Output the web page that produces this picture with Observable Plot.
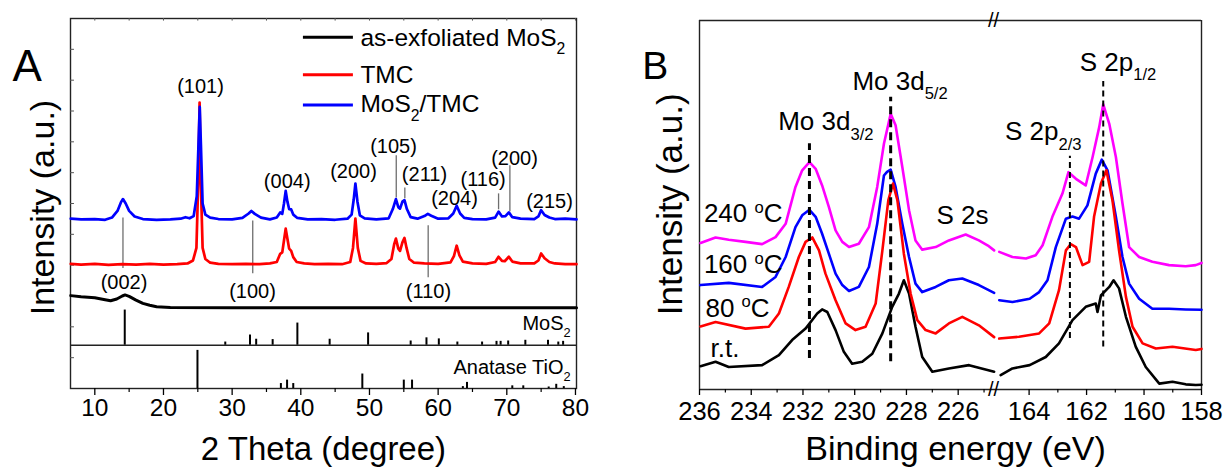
<!DOCTYPE html>
<html><head><meta charset="utf-8">
<script src="https://cdn.jsdelivr.net/npm/d3@7"></script>
<script src="https://cdn.jsdelivr.net/npm/@observablehq/plot@0.6"></script>
<style>
html,body{margin:0;padding:0;background:#fff;}
#fig{position:relative;width:1227px;height:468px;overflow:hidden;background:#fff;}
#fig svg{position:absolute;top:0;}
</style></head><body><div id="fig"></div>
<script>
const FONT = '"Liberation Sans", Arial, Helvetica, sans-serif';

// ---------- Panel A: XRD (2 theta, stacked intensity a.u.) ----------
const xrdBlack = [[6.5,25.1],[8,24.8],[10,24.5],[11.5,24.0],[12.3,23.7],[13.2,24.2],[14.0,25.0],[14.4,25.3],[15.0,24.9],[16,23.9],[17,23.0],[18,22.5],[19,22.1],[21,21.9],[30,21.8],[50,21.8],[80.15,21.8]];
const xrdTMC = [[6.5,33.7],[8,33.5],[10,33.7],[12,33.4],[14,33.6],[16,33.5],[18,33.7],[20,33.5],[22,33.6],[23.5,33.8],[24.3,34.6],[24.8,38],[25.05,55],[25.26,77.3],[25.45,55],[25.7,38],[26.1,35],[26.8,34],[28,33.7],[30,33.6],[32,33.7],[34,33.6],[35.5,33.8],[36.5,34.2],[37.0,36.4],[37.3,36.8],[37.55,40],[37.8,43.2],[38.05,40.5],[38.3,37.8],[38.6,37.2],[38.9,35.5],[39.4,34.2],[40.5,33.8],[42,33.6],[44,33.7],[46,33.6],[47.2,34.2],[47.6,38],[47.95,45.9],[48.3,38],[48.7,34.5],[49.5,33.8],[51,33.7],[52.5,33.9],[53.2,35],[53.6,39],[53.85,40.5],[54.2,37.8],[54.45,37.2],[54.8,39.5],[55.1,40.7],[55.4,38],[55.8,35],[56.5,34],[58,33.8],[60,33.7],[61.8,34.1],[62.3,35.8],[62.7,38.6],[63.1,36],[63.6,34.3],[65,33.8],[67,33.7],[68.3,34.2],[68.8,35.6],[69.3,34.5],[69.7,34.4],[70.3,35.6],[70.8,34.3],[72,33.8],[74,33.8],[74.6,34.6],[75.0,36.5],[75.5,35.2],[76.2,34.2],[77,33.8],[78.5,33.6],[80.15,33.6]];
const xrdMoS2TMC = [[6.5,45.9],[8,45.7],[10,45.8],[11.5,45.6],[12.5,46.2],[13.3,48],[13.8,50.3],[14.1,51.2],[14.5,50],[15.0,48],[15.8,46.5],[17,45.8],[19,45.6],[21,45.7],[22.5,45.9],[23.2,46.3],[23.8,46.0],[24.4,46.6],[24.85,52],[25.1,66],[25.28,76.1],[25.45,66],[25.7,50],[26.1,47],[26.8,46.2],[28,45.8],[30,45.7],[31.5,46.1],[32.4,47.3],[32.8,48.0],[33.3,47.2],[34.2,46.2],[35.5,45.7],[36.5,46.2],[37.0,47.6],[37.3,47.2],[37.55,50],[37.8,53.4],[38.05,50.5],[38.3,48.5],[38.6,48.4],[38.9,47],[39.5,46.1],[41,45.7],[43,45.8],[45,45.6],[46.8,45.9],[47.4,47],[47.7,51],[47.95,55.4],[48.25,50.5],[48.6,46.8],[49.3,46],[51,45.7],[52.8,46],[53.4,48.5],[53.85,51.2],[54.2,49],[54.45,48.6],[54.8,50.5],[55.1,50.9],[55.45,48.5],[56,46.3],[57,45.9],[58,46.6],[58.5,47.2],[59,46.7],[60,45.9],[61.5,46],[62.2,47.3],[62.7,49.4],[63.2,47.3],[63.8,46.1],[65,45.8],[67,45.7],[68.3,46.2],[68.8,47.8],[69.3,46.5],[69.8,46.6],[70.3,47.6],[70.8,46.3],[72,45.9],[74,45.8],[74.6,46.5],[75.0,48.2],[75.5,46.9],[76.2,46.2],[77,45.8],[78.5,45.9],[80.15,45.7]];

// Reference patterns (relative intensity, %)
const mos2RefTheta = [14.36,29.0,32.6,33.5,35.9,39.5,44.2,49.8,56.0,58.3,60.1,62.8,66.4,68.5,69.1,70.2,72.7,76.0,77.5,78.2];
const mos2RefInt   = [100,9,29,17,16,63,17,35,12,21,18,9,9,11,11,12,14,14,9,11];
const anataseRefTheta = [24.95,37.1,38.0,38.9,48.96,55.0,56.2,63.6,64.2,70.8,72.4,76.1,77.2,78.3];
const anataseRefInt   = [100,13,22,13,38,22,22,5,16,7,7,4,11,5];
const mos2Base = 11.7, mos2Scale = 0.095, anataseScale = 0.103;

const legendLabels = ["as-exfoliated MoS_{2}", "TMC", "MoS_{2}/TMC"];
const legendColors = ["#000000", "#ff0000", "#0000ff"];
const legendLineY = [94.9, 84.8, 76.6];
const legendTextY = [92.6, 82.7, 74.6];

const peakLabelText = ["(101)","(004)","(200)","(105)","(211)","(204)","(116)","(200)","(215)","(002)","(100)","(110)"];
const peakLabelX    = [25.39,38.02,47.67,53.5,58.01,62.38,66.56,71.12,76.22,14.25,32.97,58.59];
const peakLabelY    = [79.8,54.2,56.9,63.7,56.0,49.6,54.7,60.3,48.8,26.8,24.5,24.5];

const dropX  = [14.1,33.0,58.55,53.9,55.15,68.8,70.45];
const dropY1 = [32.4,31.0,29.9,51.5,51.3,48.3,47.8];
const dropY2 = [46.1,45.3,44.0,62.9,54.2,52.6,60.2];

const xTicksA = [10,20,30,40,50,60,70,80];
const xMinorA = [15,25,35,45,55,65,75];
const yTicksA = [8.33,16.67,25,33.33,41.67,50,58.33,66.67,75,83.33,91.67];

// ---------- Panel B: XPS (binding energy, eV), broken axis ----------
const xpsRT = {
  left: [[235.96,6.3],[235.38,7.5],[234.87,6.1],[233.58,6.6],[232.93,9.3],[232.42,13.4],[231.9,16.5],[231.45,20.6],[231.26,21.7],[231.06,21.0],[230.74,16.1],[230.42,10.2],[230.1,7.0],[229.71,7.5],[229.32,9.7],[228.93,15.2],[228.55,22.4],[228.29,26.0],[228.1,29.6],[227.9,26.0],[227.65,17.0],[227.39,8.8],[227.0,4.8],[226.36,5.7],[225.58,6.6],[224.61,4.8]],
  right: [[164.99,3.9],[164.58,5.7],[163.98,6.6],[163.42,8.8],[162.96,12.5],[162.49,18.8],[162.03,22.4],[161.68,23.3],[161.62,21.0],[161.5,25.5],[161.21,27.8],[161.06,29.6],[160.87,27.4],[160.63,19.7],[160.29,11.6],[159.94,6.1],[159.47,1.6],[159.01,2.1],[158.55,1.4],[158.2,1.2],[158.0,1.3]]
};
const xps80 = {
  left: [[235.96,17.1],[235.38,18.3],[234.22,16.5],[233.32,17.0],[232.93,20.6],[232.55,27.8],[232.16,35.9],[231.9,40.0],[231.64,41.2],[231.38,37.7],[231.13,31.4],[230.74,24.2],[230.35,17.9],[229.97,16.1],[229.58,17.0],[229.19,23.3],[228.93,37.7],[228.7,51.3],[228.52,55.8],[228.35,51.3],[228.1,36.8],[227.84,26.0],[227.58,18.8],[227.26,16.1],[226.87,15.2],[226.36,17.9],[225.84,19.7],[225.2,17.4],[224.61,14.2]],
  right: [[165.04,13.8],[164.35,14.3],[163.65,15.2],[163.3,17.9],[162.96,26.9],[162.72,37.7],[162.55,39.4],[162.37,38.6],[162.14,33.7],[161.91,34.6],[161.74,46.8],[161.5,55.8],[161.31,59.4],[161.1,51.3],[160.87,37.7],[160.63,25.1],[160.4,17.0],[160.05,12.5],[159.59,11.1],[159.01,11.6],[158.2,10.7],[158.0,11.0]]
};
const xps160 = {
  left: [[235.96,28.3],[234.87,28.9],[233.58,27.8],[233.06,30.5],[232.67,35.9],[232.29,44.0],[232.03,47.2],[231.75,48.7],[231.51,46.8],[231.26,42.2],[231.0,36.8],[230.74,31.4],[230.48,28.3],[230.22,26.7],[229.84,27.8],[229.45,33.2],[229.13,44.9],[228.87,58.0],[228.75,59.0],[228.61,59.6],[228.42,54.9],[228.16,44.9],[227.9,35.9],[227.65,28.7],[227.39,26.4],[226.87,27.8],[226.36,29.6],[225.84,30.1],[225.2,28.3],[224.61,26.2]],
  right: [[165.04,24.2],[164.58,23.7],[163.98,24.6],[163.65,26.4],[163.36,29.6],[163.07,38.6],[162.72,46.3],[162.49,46.9],[162.26,46.3],[161.97,49.9],[161.68,58.5],[161.47,62.3],[161.27,59.4],[160.98,46.8],[160.75,35.9],[160.52,28.7],[160.17,24.6],[159.71,21.9],[159.13,21.9],[158.55,21.7],[158.0,21.6]]
};
const xps240 = {
  left: [[235.96,39.7],[235.38,41.2],[234.87,40.6],[234.22,40.0],[233.58,39.4],[233.06,41.3],[232.67,44.9],[232.29,54.9],[232.03,59.4],[231.75,61.6],[231.51,59.8],[231.26,55.3],[231.0,49.5],[230.74,43.1],[230.48,40.0],[230.22,38.6],[229.84,39.5],[229.45,44.0],[229.13,54.9],[228.87,66.6],[228.61,74.7],[228.42,71.6],[228.16,60.3],[227.9,48.6],[227.65,40.4],[227.39,37.9],[226.87,38.6],[226.36,40.4],[225.71,42.0],[225.2,40.4],[224.85,39.0],[224.61,37.7]],
  right: [[165.04,37.3],[164.58,35.9],[164.11,35.5],[163.77,36.4],[163.53,39.1],[163.19,46.8],[162.84,53.1],[162.63,58.9],[162.37,57.1],[162.03,55.3],[161.79,63.0],[161.56,71.1],[161.42,77.3],[161.21,72.0],[160.98,63.0],[160.75,50.4],[160.52,38.6],[160.17,35.9],[159.71,34.6],[159.13,33.7],[158.55,33.4],[158.2,33.7],[158.0,34.3]]
};
const xpsSeries = [
  {name: "r.t.", color: "#000000", data: xpsRT},
  {name: "240 ^{o}C", color: "#ff00ff", data: xps240},
  {name: "160 ^{o}C", color: "#0000ff", data: xps160},
  {name: "80 ^{o}C", color: "#ff0000", data: xps80}
];
const seriesLabelX = [235.57, 235.83, 235.83, 235.77];
const seriesLabelY = [8.8, 45.4, 31.6, 19.7];

const moLineX = [231.75, 228.61], moLineY1 = [8.4, 7.5], moLineY2 = [66.6, 79.2];
const sLineX = [162.58, 161.42], sLineY1 = [13.8, 11.5], sLineY2 = [63.2, 83.5];

const moNames = ["Mo 3d_{5/2}", "Mo 3d_{3/2}", "S 2s"];
const moNamesX = [230.09, 232.96, 226.84];
const moNamesY = [81.3, 70.2, 44.9];
const sNames = ["S 2p_{2/3}", "S 2p_{1/2}"];
const sNamesX = [164.84, 162.24];
const sNamesY = [67.5, 86.3];

const domainLeftB = [236, 224.48];
const domainRightB = [165.1, 158];
const xTicksBL = [236,234,232,230,228,226];
const xMinorBL = [235,233,231,229,227,225];
const xTicksBR = [164,162,160,158];
const xMinorBR = [163,161,159];

// ---------- build rows ----------
const toRows = (pts, s) => pts.map(([x, y]) => ({x, y, s}));
const mos2Rows = mos2RefTheta.map((x, i) => ({x, i: mos2RefInt[i]}));
const anaRows = anataseRefTheta.map((x, i) => ({x, i: anataseRefInt[i]}));
const legendRows = legendLabels.map((t, i) => ({t, c: legendColors[i], ly: legendLineY[i], ty: legendTextY[i]}));
const peakRows = peakLabelText.map((t, i) => ({t, x: peakLabelX[i], y: peakLabelY[i]}));
const dropRows = dropX.map((x, i) => ({x, y1: dropY1[i], y2: dropY2[i]}));

const baseStyle = {fontFamily: FONT, background: "transparent", color: "#000", overflow: "visible"};

const plotA = Plot.plot({
  width: 610, height: 468,
  marginLeft: 70, marginRight: 34, marginTop: 18, marginBottom: 80,
  style: baseStyle,
  x: {domain: [6.46, 80.15], axis: null},
  y: {domain: [0, 100], axis: null},
  marks: [
    Plot.frame({stroke: "#222", strokeWidth: 1.4}),
    Plot.ruleY([mos2Base], {stroke: "#222", strokeWidth: 1.4}),
    Plot.ruleY(yTicksA, {x1: 6.46, x2: 7.04, stroke: "#555", strokeWidth: 1}),
    Plot.ruleX(xTicksA.concat(xMinorA), {y1: 99.3, y2: 100, stroke: "#555", strokeWidth: 1}),
    Plot.ruleX(mos2Rows, {x: "x", y1: mos2Base, y2: d => mos2Base + d.i * mos2Scale, stroke: "#000", strokeWidth: 2}),
    Plot.ruleX(anaRows, {x: "x", y1: 0, y2: d => d.i * anataseScale, stroke: "#000", strokeWidth: 2}),
    Plot.ruleX(dropRows, {x: "x", y1: "y1", y2: "y2", stroke: "#6e6e6e", strokeWidth: 1.3}),
    Plot.line(toRows(xrdBlack, "a"), {x: "x", y: "y", stroke: "#000", strokeWidth: 3}),
    Plot.line(toRows(xrdTMC, "b"), {x: "x", y: "y", stroke: "#ff0000", strokeWidth: 2.7}),
    Plot.line(toRows(xrdMoS2TMC, "c"), {x: "x", y: "y", stroke: "#0000ff", strokeWidth: 2.7}),
    Plot.ruleY(legendRows, {y: "ly", x1: 40.38, x2: 47.66, stroke: "c", strokeWidth: 3}),
    Plot.text(legendRows, {x: 48.68, y: "ty", text: "t", fontSize: 24.5, textAnchor: "start", lineAnchor: "bottom"}),
    Plot.text(peakRows, {x: "x", y: "y", text: "t", fontSize: 20, textAnchor: "middle", lineAnchor: "bottom"}),
    Plot.text([{t: "MoS_{2}", x: 79.3, y: 15.8}, {t: "Anatase TiO_{2}", x: 79.3, y: 3.9}],
      {x: "x", y: "y", text: "t", fontSize: 20, textAnchor: "end", lineAnchor: "bottom"}),
    Plot.axisX({ticks: xTicksA, tickSize: 7, tickPadding: 3, fontSize: 24.5, label: null, tickFormat: d => String(d), strokeWidth: 1.3}),
    Plot.axisX({ticks: xMinorA, tickSize: 4, tickFormat: () => "", label: null, strokeWidth: 1.2}),
    Plot.text([{t: "2 Theta (degree)", x: 43.3}], {x: "x", text: "t", frameAnchor: "bottom", dy: 71.5, fontSize: 33, textAnchor: "middle", lineAnchor: "bottom"}),
    Plot.text([{t: "Intensity (a.u.)", y: 48.9}], {y: "y", text: "t", frameAnchor: "left", rotate: -90, dx: -16.7, fontSize: 34, textAnchor: "middle", lineAnchor: "bottom"}),
    Plot.text([{t: "A"}], {text: "t", frameAnchor: "top-left", dx: -58, dy: 62, fontSize: 44, textAnchor: "start", lineAnchor: "bottom"})
  ]
});

const seriesLabelRows = xpsSeries.map((s, i) => ({t: s.name, x: seriesLabelX[i], y: seriesLabelY[i]}));
const moRows = moLineX.map((x, i) => ({x, y1: moLineY1[i], y2: moLineY2[i]}));
const sRows = sLineX.map((x, i) => ({x, y1: sLineY1[i], y2: sLineY2[i]}));
const moNameRows = moNames.map((t, i) => ({t, x: moNamesX[i], y: moNamesY[i]}));
const sNameRows = sNames.map((t, i) => ({t, x: sNamesX[i], y: sNamesY[i]}));
const frameStroke = {stroke: "#222", strokeWidth: 1.4};

// Left segment of the broken binding-energy axis (Mo 3d, S 2s)
const plotBL = Plot.plot({
  width: 387, height: 468,
  marginLeft: 89, marginRight: 0, marginTop: 20, marginBottom: 79,
  style: baseStyle,
  x: {domain: domainLeftB, axis: null},
  y: {domain: [0, 100], axis: null},
  marks: [
    Plot.ruleY([0, 100], frameStroke),
    Plot.ruleX([domainLeftB[0]], frameStroke),
    ...xpsSeries.map(s => Plot.line(toRows(s.data.left, s.name), {x: "x", y: "y", stroke: s.color, strokeWidth: 2.6})),
    Plot.ruleX(moRows, {x: "x", y1: "y1", y2: "y2", stroke: "#000", strokeWidth: 3, strokeDasharray: "8,5"}),
    Plot.text(seriesLabelRows, {x: "x", y: "y", text: "t", fontSize: 26, textAnchor: "start", lineAnchor: "bottom"}),
    Plot.text(moNameRows, {x: "x", y: "y", text: "t", fontSize: 26, textAnchor: "start", lineAnchor: "bottom"}),
    Plot.text([{t: "//", x: domainLeftB[1]}], {x: "x", text: "t", frameAnchor: "top", dx: -4, fontSize: 20, textAnchor: "middle", lineAnchor: "middle"}),
    Plot.text([{t: "//", x: domainLeftB[1]}], {x: "x", text: "t", frameAnchor: "bottom", dx: -4, fontSize: 20, textAnchor: "middle", lineAnchor: "middle"}),
    Plot.axisX({ticks: xTicksBL, tickSize: 6, tickPadding: 6, fontSize: 25.5, label: null, tickFormat: d => String(d), strokeWidth: 1.3}),
    Plot.axisX({ticks: xMinorBL, tickSize: 3.5, tickFormat: () => "", label: null, strokeWidth: 1.2}),
    Plot.text([{t: "Binding energy (eV)", x: 226.1}], {x: "x", text: "t", frameAnchor: "bottom", dy: 70.5, fontSize: 34, textAnchor: "middle", lineAnchor: "bottom"}),
    Plot.text([{t: "Intensity (a.u.)", y: 50.2}], {y: "y", text: "t", frameAnchor: "left", rotate: -90, dx: -17.3, fontSize: 35, textAnchor: "middle", lineAnchor: "bottom"}),
    Plot.text([{t: "B"}], {text: "t", frameAnchor: "top-left", dx: -57.3, dy: 58.3, fontSize: 39, textAnchor: "start", lineAnchor: "bottom"})
  ]
});

// Right segment of the broken axis (S 2p)
const plotBR = Plot.plot({
  width: 230, height: 468,
  marginLeft: 0, marginRight: 26, marginTop: 20, marginBottom: 79,
  style: baseStyle,
  x: {domain: domainRightB, axis: null},
  y: {domain: [0, 100], axis: null},
  marks: [
    Plot.ruleY([0, 100], frameStroke),
    Plot.ruleX([domainRightB[1]], frameStroke),
    ...xpsSeries.map(s => Plot.line(toRows(s.data.right, s.name), {x: "x", y: "y", stroke: s.color, strokeWidth: 2.6})),
    Plot.ruleX(sRows, {x: "x", y1: "y1", y2: "y2", stroke: "#000", strokeWidth: 2, strokeDasharray: "6,4"}),
    Plot.text(sNameRows, {x: "x", y: "y", text: "t", fontSize: 26, textAnchor: "start", lineAnchor: "bottom"}),
    Plot.axisX({ticks: xTicksBR, tickSize: 6, tickPadding: 6, fontSize: 25.5, label: null, tickFormat: d => String(d), strokeWidth: 1.3}),
    Plot.axisX({ticks: xMinorBR, tickSize: 3.5, tickFormat: () => "", label: null, strokeWidth: 1.2})
  ]
});

const fig = document.getElementById("fig");
plotA.style.left = "0px";
plotBL.style.left = "610px";
plotBR.style.left = "997px";
fig.append(plotA, plotBL, plotBR);

// Render _{sub} and ^{sup} markup as real tspans
function richify(root) {
  root.querySelectorAll("text").forEach(t => {
    const s = t.textContent;
    if (!/[_^]\{/.test(s)) return;
    const fs = parseFloat(getComputedStyle(t).fontSize) || 16;
    while (t.firstChild) t.removeChild(t.firstChild);
    const re = /([_^])\{([^}]*)\}|([^_^]+)/g;
    let m, shift = 0;
    while ((m = re.exec(s))) {
      const ts = document.createElementNS("http://www.w3.org/2000/svg", "tspan");
      let target = 0;
      if (m[1]) {
        target = m[1] === "_" ? 0.35 * fs : -0.36 * fs;
        ts.setAttribute("font-size", (0.64 * fs).toFixed(1));
        ts.textContent = m[2];
      } else {
        ts.textContent = m[3];
      }
      const d = target - shift;
      if (d) ts.setAttribute("dy", d.toFixed(2));
      shift = target;
      t.appendChild(ts);
    }
  });
}
[plotA, plotBL, plotBR].forEach(richify);
</script></body></html>
